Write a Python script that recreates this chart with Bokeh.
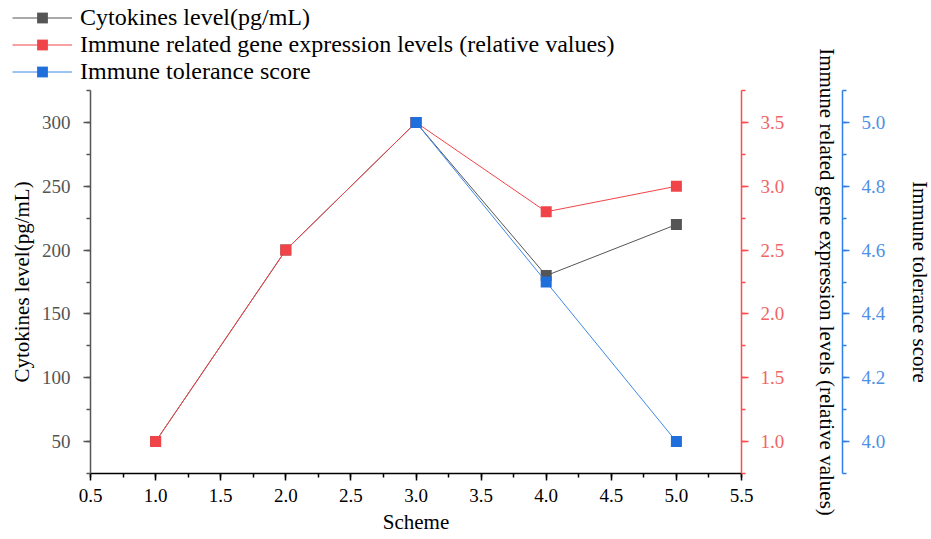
from bokeh.plotting import figure
from bokeh.models import (LinearAxis, Range1d, Legend, LegendItem, GridBox,
                          SingleIntervalTicker, PrintfTickFormatter)
from bokeh.embed import file_html
from bokeh.resources import INLINE

# ---- data ----
scheme = [1, 2, 3, 4, 5]
cytokines = [50, 200, 300, 180, 220]
gene_expr = [1.0, 2.5, 3.5, 2.8, 3.0]
tolerance = [float("nan"), float("nan"), 5.0, 4.5, 4.0]

label_cyto = "Cytokines level(pg/mL)"
label_gene = "Immune related gene expression levels (relative values)"
label_tol = "Immune tolerance score"

# ---- styles ----
FONT = "Liberation Serif"
GRAY = "#555555"
RED = "#F04448"
RED_AX = "#FF4D4D"
RED_TXT = "#F26464"
BLUE = "#1E6FDB"
BLUE_LINE = "#3D88EA"
BLUE_AX = "#2F80E8"
BLUE_TXT = "#4E90E6"
SERIES = [(GRAY, GRAY), (RED, RED), (BLUE_LINE, BLUE)]

p = figure(frame_width=651, frame_height=383,
           x_range=Range1d(0.5, 5.5), y_range=Range1d(25, 325),
           output_backend="svg", toolbar_location=None,
           min_border_left=90, min_border_top=90,
           min_border_right=0, min_border_bottom=0,
           x_axis_label="Scheme", y_axis_label=label_cyto,
           align="start")
p.frame_align = False
p.extra_y_ranges = {"gene": Range1d(0.75, 3.75), "tol": Range1d(3.9, 5.1)}
p.xgrid.visible = False
p.ygrid.visible = False
p.outline_line_color = None
p.background_fill_color = "white"
p.border_fill_color = "white"


def style_axis(ax, line_color, label_color, tick_size="19px"):
    ax.axis_line_color = line_color
    ax.axis_line_width = 1.5
    ax.major_tick_line_color = line_color
    ax.minor_tick_line_color = line_color
    ax.major_tick_line_width = 1.5
    ax.minor_tick_line_width = 1.5
    ax.major_tick_out = 7
    ax.major_tick_in = 0
    ax.minor_tick_out = 4
    ax.minor_tick_in = 0
    ax.major_label_text_font = FONT
    ax.major_label_text_font_size = tick_size
    ax.major_label_text_color = label_color
    ax.axis_label_text_font = FONT
    ax.axis_label_text_font_style = "normal"
    ax.axis_label_text_color = "black"
    ax.axis_label_text_font_size = "21px"


# x axis
xa = p.xaxis[0]
xa.ticker = SingleIntervalTicker(interval=0.5, num_minor_ticks=2)
xa.formatter = PrintfTickFormatter(format="%.1f")
style_axis(xa, "black", "black")
xa.major_label_standoff = 8
xa.axis_label_standoff = 5

# left y axis
ya = p.yaxis[0]
ya.ticker = SingleIntervalTicker(interval=50, num_minor_ticks=2)
style_axis(ya, GRAY, GRAY)
ya.major_label_standoff = 13
ya.axis_label_standoff = 5

# right axes
ax_gene = LinearAxis(y_range_name="gene", axis_label=label_gene,
                     ticker=SingleIntervalTicker(interval=0.5, num_minor_ticks=2),
                     formatter=PrintfTickFormatter(format="%.1f"))
style_axis(ax_gene, RED_AX, RED_TXT)
ax_gene.major_label_standoff = 12
ax_gene.axis_label_standoff = 28
p.add_layout(ax_gene, "right")

ax_tol = LinearAxis(y_range_name="tol", axis_label=label_tol,
                    ticker=SingleIntervalTicker(interval=0.2, num_minor_ticks=2),
                    formatter=PrintfTickFormatter(format="%.1f"))
style_axis(ax_tol, BLUE_AX, BLUE_TXT)
ax_tol.major_label_standoff = 12
ax_tol.axis_label_standoff = 20
p.add_layout(ax_tol, "right")

# series
p.line(scheme, cytokines, line_color=GRAY, line_width=1)
p.scatter(scheme, cytokines, marker="square", size=11,
          fill_color=GRAY, line_color=None)
p.line(scheme, gene_expr, line_color=RED, line_width=1, y_range_name="gene")
p.scatter(scheme, gene_expr, marker="square", size=11,
          fill_color=RED, line_color=None, y_range_name="gene")
p.line(scheme, tolerance, line_color=BLUE_LINE, line_width=1, y_range_name="tol")
p.scatter(scheme, tolerance, marker="square", size=11,
          fill_color=BLUE, line_color=None, y_range_name="tol")

# ---- legend: a transparent overlay figure sharing the same grid cell ----
# (its ranges keep the proxy series out of view; only the legend shows)
lf = figure(width=760, height=90, output_backend="svg", toolbar_location=None,
            x_range=Range1d(100, 101), y_range=Range1d(1000, 1001),
            x_axis_location=None, y_axis_location=None,
            min_border=0, align="start")
lf.frame_align = False
lf.xgrid.visible = False
lf.ygrid.visible = False
lf.outline_line_color = None
lf.background_fill_alpha = 0
lf.border_fill_alpha = 0

items = []
for label, ys, (lc, mc) in zip([label_cyto, label_gene, label_tol],
                               [cytokines, gene_expr, tolerance], SERIES):
    r_line = lf.line(scheme, ys, line_color=lc, line_width=1)
    r_mark = lf.scatter(scheme, ys, marker="square", size=11,
                        fill_color=mc, line_color=None)
    items.append(LegendItem(label=label, renderers=[r_line, r_mark]))

legend = Legend(items=items, location=(12, 5))
legend.padding = 0
legend.margin = 0
legend.spacing = 0
legend.label_height = 27
legend.glyph_height = 27
legend.glyph_width = 60
legend.label_standoff = 8
legend.label_text_font = FONT
legend.label_text_font_size = "24px"
legend.label_text_color = "black"
legend.border_line_alpha = 0
legend.background_fill_alpha = 0
lf.add_layout(legend, "center")

grid = GridBox(children=[(p, 0, 0), (lf, 0, 0)])

open("out.html", "w").write(file_html(grid, INLINE))
